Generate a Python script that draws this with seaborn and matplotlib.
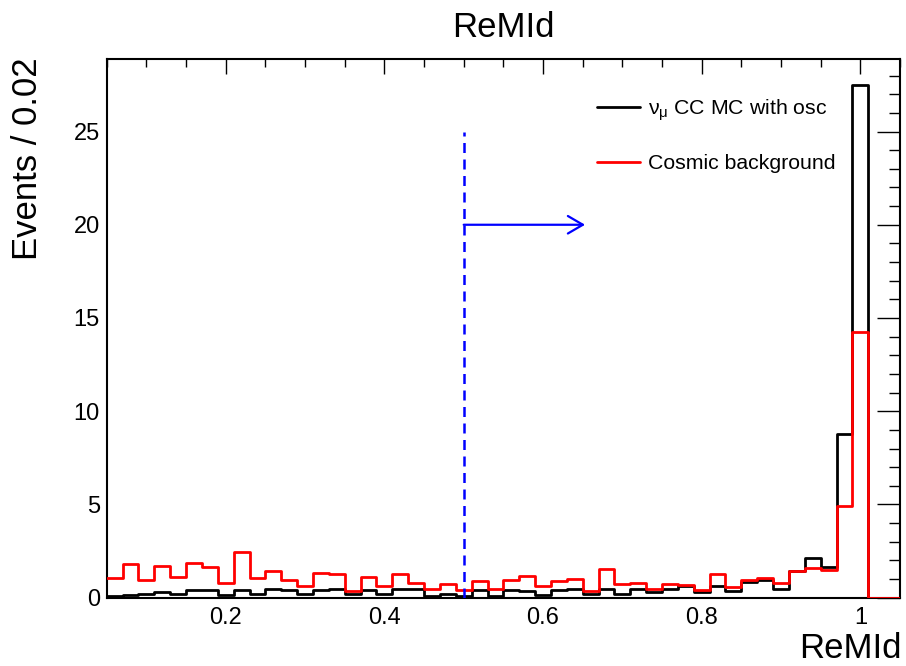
import numpy as np
import pandas as pd
import matplotlib
matplotlib.use("Agg")
import matplotlib.pyplot as plt
from matplotlib.lines import Line2D
from matplotlib.ticker import MultipleLocator
import seaborn as sns

# Binning: 50 bins of width 0.02 from 0.05 to 1.05
bin_edges = [round(0.05 + 0.02 * i, 4) for i in range(51)]
bin_centers = [round(0.5 * (a + b), 4) for a, b in zip(bin_edges[:-1], bin_edges[1:])]

# nu_mu CC MC (with oscillations), events per bin
numu_cc = [0.08, 0.15, 0.17, 0.28, 0.18, 0.42, 0.40, 0.15, 0.42, 0.18,
           0.45, 0.42, 0.18, 0.40, 0.44, 0.17, 0.40, 0.17, 0.44, 0.44,
           0.08, 0.22, 0.08, 0.40, 0.10, 0.42, 0.36, 0.15, 0.42, 0.44,
           0.18, 0.47, 0.19, 0.45, 0.31, 0.49, 0.60, 0.31, 0.65, 0.37,
           0.85, 0.94, 0.49, 1.44, 2.13, 1.65, 8.79, 27.5, 0.0, 0.0]

# Cosmic background, events per bin
cosmic = [1.08, 1.79, 0.94, 1.70, 1.11, 1.88, 1.62, 0.76, 2.45, 1.08,
          1.44, 0.94, 0.62, 1.32, 1.27, 0.38, 1.10, 0.64, 1.29, 0.76,
          0.44, 0.72, 0.40, 0.92, 0.44, 0.94, 1.14, 0.60, 0.92, 1.00,
          0.37, 1.52, 0.72, 0.79, 0.49, 0.72, 0.67, 0.42, 1.26, 0.58,
          0.97, 1.04, 0.79, 1.44, 1.60, 1.51, 4.90, 14.27, 0.0, 0.0]

series_labels = [r"$\nu_{\mu}$ CC MC with osc", "Cosmic background"]
series_colors = ["black", "red"]

x_ticks = [0.2, 0.4, 0.6, 0.8, 1.0]
x_tick_labels = ["0.2", "0.4", "0.6", "0.8", "1"]
y_ticks = [0, 5, 10, 15, 20, 25]
y_tick_labels = ["0", "5", "10", "15", "20", "25"]

cut_value = 0.5
cut_line_top = 25
arrow_y = 20
arrow_end = 0.653

df = pd.DataFrame({
    "ReMId": bin_centers + bin_centers,
    "events": numu_cc + cosmic,
    "sample": [series_labels[0]] * len(numu_cc) + [series_labels[1]] * len(cosmic),
})

sns.set_style("white")
plt.rcParams["font.family"] = ["Liberation Sans", "DejaVu Sans"]
plt.rcParams["mathtext.fontset"] = "custom"
plt.rcParams["mathtext.rm"] = "Liberation Sans"
plt.rcParams["mathtext.it"] = "Liberation Sans"
for key in ["text.color", "axes.labelcolor", "xtick.color", "ytick.color",
            "axes.edgecolor"]:
    plt.rcParams[key] = "black"

fig = plt.figure(figsize=(9.06, 6.66), dpi=100)
ax = fig.add_axes([0.1178, 0.1026, 0.8756, 0.8084])

for label, color in zip(series_labels, series_colors):
    sub = df[df["sample"] == label]
    sns.histplot(data=sub, x="ReMId", weights="events", bins=bin_edges,
                 element="step", fill=False, color=color, linewidth=2.0,
                 ax=ax, legend=False, zorder=3)

# Selection cut at ReMId = 0.5
ax.plot([cut_value, cut_value], [0, cut_line_top], color="blue", lw=1.8,
        linestyle=(0, (4, 2.6)), zorder=4)
ax.annotate("", xy=(arrow_end, arrow_y), xytext=(cut_value, arrow_y),
            arrowprops=dict(arrowstyle="->,head_length=0.6,head_width=0.35",
                            color="blue", lw=1.6, mutation_scale=18,
                            shrinkA=0, shrinkB=0))

ax.set_xlim(bin_edges[0], bin_edges[-1])
ax.set_ylim(0, max(numu_cc) * 1.05)

ax.set_xticks(x_ticks)
ax.set_xticklabels(x_tick_labels)
ax.set_yticks(y_ticks)
ax.set_yticklabels(y_tick_labels)
ax.xaxis.set_minor_locator(MultipleLocator(0.05))
ax.yaxis.set_minor_locator(MultipleLocator(1))

ax.tick_params(axis="both", which="both", direction="in", top=True, right=True,
               width=1.0, colors="black", labelsize=17)
ax.tick_params(axis="x", which="major", length=10.8, pad=7)
ax.tick_params(axis="x", which="minor", length=5.4)
ax.tick_params(axis="y", which="major", length=16.6, pad=5)
ax.tick_params(axis="y", which="minor", length=8.0)

for spine in ax.spines.values():
    spine.set_linewidth(1.5)
    spine.set_color("black")

ax.set_title("ReMId", fontsize=25, pad=16)
ax.set_xlabel("ReMId", fontsize=25, loc="right")
ax.set_ylabel("Events / 0.02", fontsize=25, loc="top")
ax.xaxis.set_label_coords(1.002, -0.063)
ax.yaxis.set_label_coords(-0.079, 1.003)

handles = [Line2D([], [], color=c, lw=2.0) for c in series_colors]
ax.legend(handles, series_labels, loc="upper left",
          bbox_to_anchor=(597 / 906, 1 - 97 / 666), bbox_transform=fig.transFigure,
          frameon=False, fontsize=15.3, handlelength=2.0, handletextpad=0.4,
          labelspacing=1.5, borderpad=0, borderaxespad=0)

fig.savefig("out.png", dpi=100)
